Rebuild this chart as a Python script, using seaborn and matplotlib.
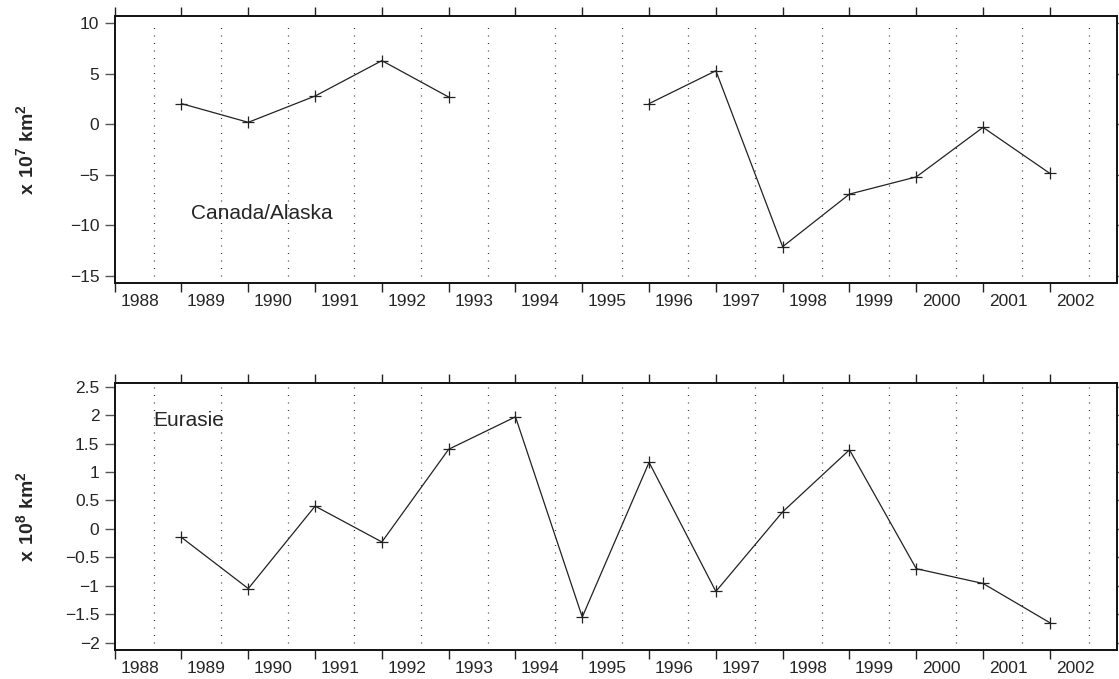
import numpy as np
import pandas as pd
import matplotlib
matplotlib.use("Agg")
import matplotlib.pyplot as plt
import seaborn as sns

# === Data ===
years = [1989, 1990, 1991, 1992, 1993, 1994, 1995, 1996, 1997, 1998, 1999, 2000, 2001, 2002]
canada = [2.05, 0.2, 2.8, 6.3, 2.7, np.nan, np.nan, 2.05, 5.3, -12.1, -6.9, -5.2, -0.3, -4.85]
eurasie = [-0.15, -1.05, 0.4, -0.23, 1.4, 1.97, -1.55, 1.17, -1.1, 0.3, 1.39, -0.7, -0.96, -1.65]

year_labels = [str(y) for y in range(1988, 2003)]
top_yticks = [10, 5, 0, -5, -10, -15]
bot_yticks = [2.5, 2, 1.5, 1, 0.5, 0, -0.5, -1, -1.5, -2]

# === Style ===
sns.set_style("ticks")
plt.rcParams['font.family'] = ['Liberation Sans', 'DejaVu Sans']
plt.rcParams['mathtext.fontset'] = 'custom'
plt.rcParams['mathtext.rm'] = 'Liberation Sans'
plt.rcParams['mathtext.bf'] = 'Liberation Sans:bold'


def to_frame(vals):
    df = pd.DataFrame({"year": years, "val": vals})
    # separate segments at gaps so the line is broken
    df["seg"] = df["val"].isna().cumsum()
    return df.dropna()


def draw_panel(ax, vals, yticks, ylim, ylabel, name, name_xy):
    df = to_frame(vals)
    sns.lineplot(data=df, x="year", y="val", units="seg", estimator=None,
                 color="#222222", lw=0.9, marker="+", markersize=8,
                 markeredgewidth=0.9, markeredgecolor="#222222", ax=ax)

    # dotted vertical lines between years
    grid_x = np.arange(1988, 2003) + 0.59
    ax.vlines(grid_x, min(yticks), max(yticks), colors="#333333",
              linewidth=0.9, linestyles=(0, (0.8, 5.2)))

    ax.set_xlim(1988, 2003)
    ax.set_ylim(*ylim)
    ax.set_xticks(np.arange(1988, 2003))
    ax.set_xticklabels([])
    ax.set_xticks(np.arange(1988, 2003) + 0.375, minor=True)
    ax.set_xticklabels(year_labels, minor=True)
    ax.tick_params(axis="x", which="minor", length=0, pad=8, labelsize=12.5)
    ax.tick_params(axis="x", which="major", direction="out", length=6.5,
                   width=1, top=True, bottom=True, color="#222222")
    ax.set_yticks(yticks)
    ax.set_yticklabels([f"{t:g}".replace("-", "\u2212") for t in yticks])
    ax.tick_params(axis="y", direction="out", length=7, width=1,
                   left=True, right=True, labelsize=12.5, pad=4,
                   color="#555555")
    for s in ax.spines.values():
        s.set_linewidth(1.4)
        s.set_color("#111111")

    ax.set_xlabel("")
    ax.set_ylabel(ylabel, fontsize=14)
    ax.yaxis.set_label_coords(-0.077, 0.5)
    ax.text(name_xy[0], name_xy[1], name, fontsize=15, va="center", ha="left")


fig = plt.figure(figsize=(11.19, 6.79), dpi=100)
ax1 = fig.add_axes([0.1025, 0.5828, 0.8954, 0.3937])
ax2 = fig.add_axes([0.1025, 0.0427, 0.8954, 0.3928])

draw_panel(ax1, canada, top_yticks, (-15.72, 10.72),
           r"$\mathbf{x\ 10^{7}\ km^{2}}$", "Canada/Alaska", (1989.14, -8.85))
draw_panel(ax2, eurasie, bot_yticks, (-2.13, 2.56),
           r"$\mathbf{x\ 10^{8}\ km^{2}}$", "Eurasie", (1988.57, 1.9))

fig.savefig("out.png", dpi=100)
